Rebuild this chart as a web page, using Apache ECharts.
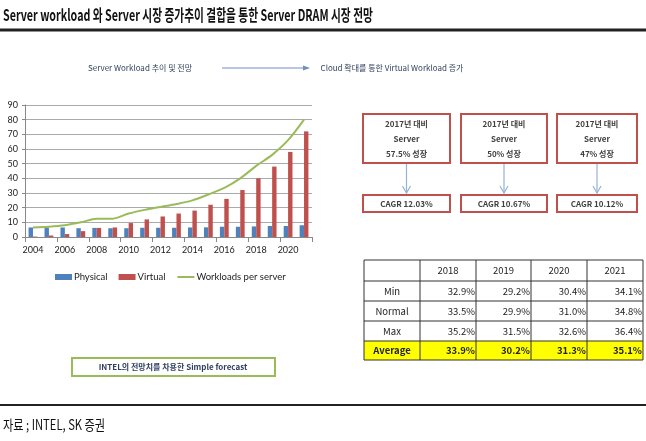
<!DOCTYPE html>
<html>
<head>
<meta charset="utf-8">
<script src="https://cdn.jsdelivr.net/npm/echarts@6/dist/echarts.min.js"></script>
<style>
  html, body { margin: 0; padding: 0; background: #fff; }
  #main { width: 646px; height: 441px; }
</style>
</head>
<body>
<div id="main"></div>
<script>
// workload chart
const years = ['2004', '2005', '2006', '2007', '2008', '2009', '2010', '2011', '2012',
  '2013', '2014', '2015', '2016', '2017', '2018', '2019', '2020', '2021'];
const physical = [6.5, 6.5, 6.5, 6, 6.2, 6, 6, 6.3, 6.3, 6.3, 6.5, 6.6, 7, 7, 7.2, 7.5, 7.5, 8];
const virtual = [0.3, 1, 2, 4, 6.2, 6.5, 9.5, 12, 14, 16, 18, 22, 26, 32, 40, 48, 58, 72];
const perServer = [6.5, 7, 8, 10, 12.5, 12.5, 16, 18.5, 20.5, 22.5, 25, 29, 33.5, 40, 48.5, 56, 66, 80];

// growth boxes
const growth = ['57.5%', '50%', '47%'];
const cagr = ['12.03%', '10.67%', '10.12%'];

// table
const tableYears = ['2018', '2019', '2020', '2021'];
const rowNames = ['Min', 'Normal', 'Max', 'Average'];
const minRow = ['32.9%', '29.2%', '30.4%', '34.1%'];
const normalRow = ['33.5%', '29.9%', '31.0%', '34.8%'];
const maxRow = ['35.2%', '31.5%', '32.6%', '36.4%'];
const avgRow = ['33.9%', '30.2%', '31.3%', '35.1%'];

const KR = '"Noto Sans CJK KR", "Noto Sans", sans-serif';
const LAT = 'Lato, "Noto Sans", sans-serif';

const g = [];

// header
g.push({ type: 'text', x: 3, y: 15, scaleX: 0.67, style: {
  text: 'Server workload 와 Server 시장 증가추이 결합을 통한 Server DRAM 시장 전망',
  fontFamily: KR, fontSize: 16, fontWeight: 'bold', fill: '#111',
  textVerticalAlign: 'middle' } });
g.push({ type: 'line', shape: { x1: 0, y1: 30, x2: 646, y2: 30 }, style: { stroke: '#222', lineWidth: 3 } });

// sub headers
g.push({ type: 'text', x: 140, y: 68, style: { text: 'Server Workload 추이 및 전망',
  fontFamily: KR, fontSize: 8, fill: '#34435f', textAlign: 'center', textVerticalAlign: 'middle' } });
g.push({ type: 'text', x: 392, y: 68, style: { text: 'Cloud 확대를 통한 Virtual Workload 증가',
  fontFamily: KR, fontSize: 8, fill: '#34435f', textAlign: 'center', textVerticalAlign: 'middle' } });
g.push({ type: 'line', shape: { x1: 222, y1: 68, x2: 308, y2: 68 }, style: { stroke: '#6f8fc0', lineWidth: 1 } });
g.push({ type: 'polygon', shape: { points: [[310, 68], [303, 65.5], [303, 70.5]] }, style: { fill: '#6f8fc0' } });

// growth boxes
const boxX = [[363, 450], [461, 547], [557, 637]];
boxX.forEach((b, i) => {
  const cx = (b[0] + b[1]) / 2;
  g.push({ type: 'rect', shape: { x: b[0], y: 114, width: b[1] - b[0], height: 49 },
    style: { fill: '#fff', stroke: '#c0504d', lineWidth: 2 } });
  ['2017년 대비', 'Server', growth[i] + ' 성장'].forEach((t, j) => {
    g.push({ type: 'text', x: cx, y: 124 + j * 15, style: { text: t, fontFamily: KR, fontSize: 8,
      fontWeight: 'bold', fill: '#404040', textAlign: 'center', textVerticalAlign: 'middle' } });
  });
  g.push({ type: 'line', shape: { x1: cx, y1: 164, x2: cx, y2: 193 }, style: { stroke: '#95b3d7', lineWidth: 1.2 } });
  g.push({ type: 'polyline', shape: { points: [[cx - 4, 186], [cx, 193], [cx + 4, 186]] },
    style: { stroke: '#95b3d7', lineWidth: 1.2, fill: null } });
  g.push({ type: 'rect', shape: { x: b[0], y: 195, width: b[1] - b[0], height: 17 },
    style: { fill: '#fff', stroke: '#c0504d', lineWidth: 2 } });
  g.push({ type: 'text', x: cx, y: 204, style: { text: 'CAGR ' + cagr[i], fontFamily: KR, fontSize: 8,
    fontWeight: 'bold', fill: '#404040', textAlign: 'center', textVerticalAlign: 'middle' } });
});

// table
const colX = [364, 420, 476, 531, 587, 643];
const rowY = [260, 281, 301, 321, 341, 360];
const rows = [minRow, normalRow, maxRow, avgRow];
g.push({ type: 'rect', shape: { x: colX[0], y: rowY[4], width: colX[5] - colX[0], height: rowY[5] - rowY[4] },
  style: { fill: '#ffff00' } });
colX.forEach(x => g.push({ type: 'line', shape: { x1: x, y1: rowY[0], x2: x, y2: rowY[5] },
  style: { stroke: '#333', lineWidth: 1 } }));
rowY.forEach(y => g.push({ type: 'line', shape: { x1: colX[0], y1: y, x2: colX[5], y2: y },
  style: { stroke: '#333', lineWidth: 1 } }));
tableYears.forEach((t, i) => {
  g.push({ type: 'text', x: (colX[i + 1] + colX[i + 2]) / 2, y: (rowY[0] + rowY[1]) / 2, style: { text: t,
    fontFamily: KR, fontSize: 9.5, fill: '#222', textAlign: 'center', textVerticalAlign: 'middle' } });
});
rowNames.forEach((name, r) => {
  const bold = r === 3 ? 'bold' : 'normal';
  const cy = (rowY[r + 1] + rowY[r + 2]) / 2;
  g.push({ type: 'text', x: (colX[0] + colX[1]) / 2, y: cy, style: { text: name, fontFamily: KR,
    fontSize: 9.5, fontWeight: bold, fill: '#222', textAlign: 'center', textVerticalAlign: 'middle' } });
  rows[r].forEach((v, c) => {
    g.push({ type: 'text', x: colX[c + 2] - 1, y: cy, style: { text: v, fontFamily: KR,
      fontSize: 9.5, fontWeight: bold, fill: '#222', textAlign: 'right', textVerticalAlign: 'middle' } });
  });
});

// forecast note
g.push({ type: 'rect', shape: { x: 72, y: 358, width: 203, height: 18 },
  style: { fill: '#fff', stroke: '#9bbb59', lineWidth: 2 } });
g.push({ type: 'text', x: 173, y: 367, style: { text: 'INTEL의 전망치를 차용한 Simple forecast',
  fontFamily: KR, fontSize: 8, fontWeight: 'bold', fill: '#2f3f5f', textAlign: 'center', textVerticalAlign: 'middle' } });

// footer
g.push({ type: 'line', shape: { x1: 0, y1: 405, x2: 646, y2: 405 }, style: { stroke: '#222', lineWidth: 2 } });
g.push({ type: 'text', x: 3, y: 425, scaleX: 0.8, style: { text: '자료 ; INTEL, SK 증권',
  fontFamily: KR, fontSize: 14, fill: '#111', textVerticalAlign: 'middle' } });

const chart = echarts.init(document.getElementById('main'));
chart.setOption({
  animation: false,
  textStyle: { fontFamily: LAT },
  grid: { left: 25, right: 334, top: 105, bottom: 204, containLabel: false },
  legend: {
    top: 267, left: 50, itemGap: 11, itemWidth: 17, itemHeight: 6,
    textStyle: { fontFamily: LAT, fontSize: 9.5, color: '#222', padding: [0, 0, 0, -3] },
    data: [
      { name: 'Physical', icon: 'rect' },
      { name: 'Virtual', icon: 'rect' },
      { name: 'Workloads per server', itemStyle: { opacity: 0 } }
    ]
  },
  xAxis: {
    type: 'category', data: years,
    axisLine: { lineStyle: { color: '#888' } },
    axisTick: { show: true, alignWithLabel: false, lineStyle: { color: '#888' } },
    axisLabel: { interval: 1, color: '#222', fontSize: 9, fontFamily: LAT, margin: 9 }
  },
  yAxis: {
    type: 'value', min: 0, max: 90, interval: 10,
    axisLine: { show: true, lineStyle: { color: '#888' } },
    axisTick: { show: true, length: 3, lineStyle: { color: '#888' } },
    splitLine: { lineStyle: { color: '#aaa' } },
    axisLabel: { color: '#222', fontSize: 9, fontFamily: LAT, margin: 7 }
  },
  series: [
    { name: 'Physical', type: 'bar', data: physical, barWidth: 4.4, barGap: '0%',
      itemStyle: { color: '#4f81bd' } },
    { name: 'Virtual', type: 'bar', data: virtual, barWidth: 4.4,
      itemStyle: { color: '#c0504d' } },
    { name: 'Workloads per server', type: 'line', data: perServer, smooth: 0.3, symbol: 'none',
      lineStyle: { color: '#9bbb59', width: 2 }, itemStyle: { color: '#9bbb59' } }
  ],
  graphic: { elements: g }
});
</script>
</body>
</html>
